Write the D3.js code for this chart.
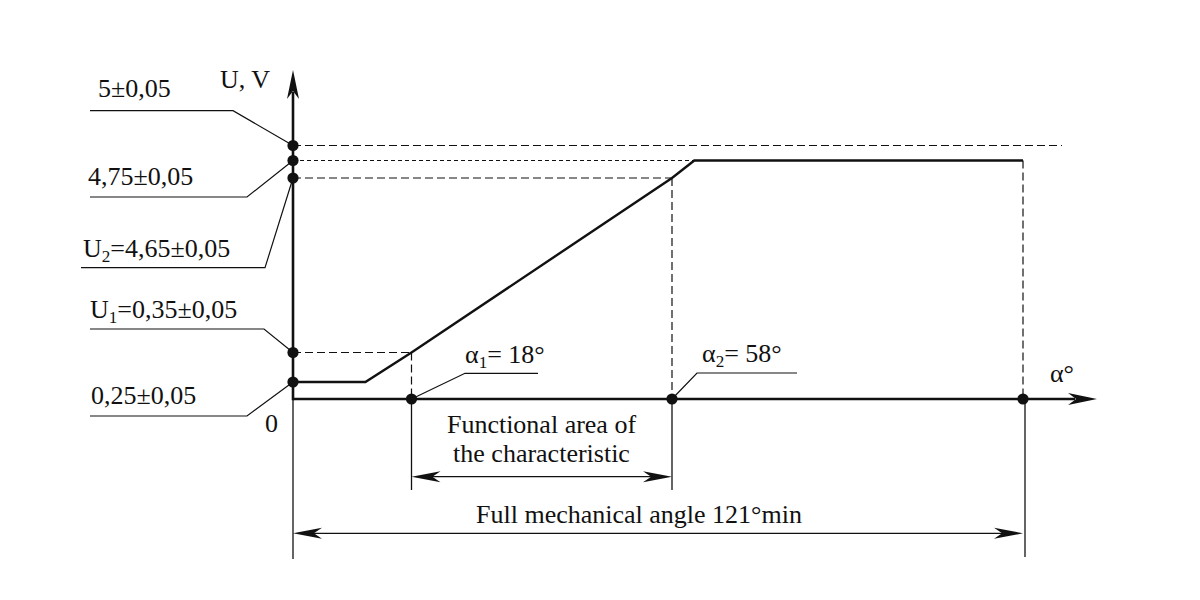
<!DOCTYPE html>
<html>
<head>
<meta charset="utf-8">
<script src="https://cdn.jsdelivr.net/npm/d3@7"></script>
<style>
  html, body { margin: 0; padding: 0; background: #fff; }
  svg { display: block; }
  text { font-family: "Liberation Serif", "Times New Roman", serif; fill: #111; }
</style>
</head>
<body>
<svg id="chart" width="1200" height="600"></svg>
<script>
// ---------------- data ----------------
// schematic (non-uniform) axes: key angles and voltages
const angleKeys = [0, 18, 58, 121];            // degrees
const voltKeys  = [0, 0.25, 0.35, 4.65, 4.75, 5]; // volts
// characteristic curve
const curveAngle = [0, 11, 18, 58, 62, 121];
const curveVolt  = [0.25, 0.25, 0.35, 4.65, 4.75, 4.75];
// marked voltage levels on the U axis
const uLevels = [5, 4.75, 4.65, 0.35, 0.25];
const uLabels = [
  [{t: "5±0,05"}],
  [{t: "4,75±0,05"}],
  [{t: "U"}, {t: "2", sub: true}, {t: "=4,65±0,05"}],
  [{t: "U"}, {t: "1", sub: true}, {t: "=0,35±0,05"}],
  [{t: "0,25±0,05"}]
];
// marked angles on the α axis
const aLevels = [18, 58, 121];
const aLabels = [
  [{t: "α"}, {t: "1", sub: true}, {t: "= 18°"}],
  [{t: "α"}, {t: "2", sub: true}, {t: "= 58°"}]
];
const axisTitleU = "U, V";
const axisTitleA = "α°";
const originLabel = "0";
const functionalText = ["Functional area of", "the characteristic"];
const fullAngleText = "Full mechanical angle 121°min";

// ---------------- layout ----------------
const svg = d3.select("#chart");
const x = d3.scaleLinear().domain(angleKeys).range([293, 411.5, 672, 1023]);
const y = d3.scaleLinear().domain(voltKeys).range([399, 382, 352.5, 178, 160.5, 145.5]);

const FS = 26;
const ink = "#111";

function arrowHead(g, tipX, tipY, angleDeg, L, w) {
  g.append("path")
    .attr("d", `M0,0 L${-L},${-w} L${-L * 0.72},0 L${-L},${w} Z`)
    .attr("transform", `translate(${tipX},${tipY}) rotate(${angleDeg})`)
    .attr("fill", ink);
}

function richText(g, parts, xx, yy, anchor) {
  const t = g.append("text").attr("x", xx).attr("y", yy)
    .attr("font-size", FS).attr("text-anchor", anchor || "start");
  let shifted = false;
  parts.forEach(p => {
    const ts = t.append("tspan").text(p.t);
    if (p.sub) { ts.attr("font-size", FS * 0.66).attr("dy", 5); shifted = true; }
    else if (shifted) { ts.attr("dy", -5); shifted = false; }
  });
  return t;
}

const g = svg.append("g");

// dashed helper lines
const dash = g.append("g").attr("fill", "none").attr("stroke", ink).attr("stroke-width", 1.2);
dash.append("line").attr("x1", x(0)).attr("x2", 1062).attr("y1", y(5)).attr("y2", y(5))
  .attr("stroke-dasharray", "8,4");
dash.append("line").attr("x1", x(0)).attr("x2", x(62)).attr("y1", y(4.75)).attr("y2", y(4.75))
  .attr("stroke-dasharray", "4,3");
dash.append("line").attr("x1", x(0)).attr("x2", x(58)).attr("y1", y(4.65)).attr("y2", y(4.65))
  .attr("stroke-dasharray", "8,4");
dash.append("line").attr("x1", x(58)).attr("x2", x(58)).attr("y1", y(4.65)).attr("y2", y(0))
  .attr("stroke-dasharray", "8,4");
dash.append("line").attr("x1", x(0)).attr("x2", x(18)).attr("y1", y(0.35)).attr("y2", y(0.35))
  .attr("stroke-dasharray", "8,4");
dash.append("line").attr("x1", x(18)).attr("x2", x(18)).attr("y1", y(0.35)).attr("y2", y(0))
  .attr("stroke-dasharray", "8,4");
dash.append("line").attr("x1", x(121)).attr("x2", x(121)).attr("y1", y(4.75)).attr("y2", y(0))
  .attr("stroke-dasharray", "8,4");

// characteristic curve
const line = d3.line().x(d => x(d[0])).y(d => y(d[1]));
g.append("path")
  .datum(curveAngle.map((a, i) => [a, curveVolt[i]]))
  .attr("d", line)
  .attr("fill", "none").attr("stroke", ink).attr("stroke-width", 2.4)
  .attr("stroke-linejoin", "miter");

// axes
g.append("line").attr("x1", x(0)).attr("x2", 1075).attr("y1", y(0)).attr("y2", y(0))
  .attr("stroke", ink).attr("stroke-width", 2.6);
arrowHead(g, 1097, y(0), 0, 29, 6);
g.append("line").attr("x1", x(0)).attr("x2", x(0)).attr("y1", y(0) + 1.3).attr("y2", 92)
  .attr("stroke", ink).attr("stroke-width", 2.6);
arrowHead(g, x(0), 70, -90, 29, 6);

g.append("text").attr("x", 220).attr("y", 88).attr("font-size", FS).text(axisTitleU);
g.append("text").attr("x", 1050).attr("y", 382).attr("font-size", FS).text(axisTitleA);
g.append("text").attr("x", 265).attr("y", 432).attr("font-size", FS).text(originLabel);

// U-level leaders and labels
const uLayout = [
  {ex: 233, ey: 110.7, left: 90, lx: 98, ly: 97},
  {ex: 247, ey: 197, left: 90, lx: 88, ly: 185},
  {ex: 265, ey: 267.7, left: 81, lx: 83, ly: 257},
  {ex: 264, ey: 329, left: 90, lx: 90, ly: 318},
  {ex: 247, ey: 416, left: 90, lx: 91, ly: 404}
];
const leaders = g.append("g").attr("fill", "none").attr("stroke", ink).attr("stroke-width", 1.2);
uLevels.forEach((v, i) => {
  const L = uLayout[i];
  leaders.append("polyline")
    .attr("points", `${x(0)},${y(v)} ${L.ex},${L.ey} ${L.left},${L.ey}`);
  richText(g, uLabels[i], L.lx, L.ly);
});

// angle leaders and labels
const aLayout = [
  {ex: 465, ey: 373.3, right: 538, lx: 465, ly: 363},
  {ex: 697, ey: 373, right: 797, lx: 702, ly: 362}
];
aLabels.forEach((parts, i) => {
  const L = aLayout[i];
  leaders.append("polyline")
    .attr("points", `${x(aLevels[i])},${y(0)} ${L.ex},${L.ey} ${L.right},${L.ey}`);
  richText(g, parts, L.lx, L.ly);
});

// dots
g.selectAll("circle.u").data(uLevels).join("circle").attr("class", "u")
  .attr("cx", x(0)).attr("cy", d => y(d)).attr("r", 5.6).attr("fill", ink);
g.selectAll("circle.a").data(aLevels).join("circle").attr("class", "a")
  .attr("cx", d => x(d)).attr("cy", y(0)).attr("r", 5.6).attr("fill", ink);

// dimension lines
const dim = g.append("g").attr("stroke", ink).attr("stroke-width", 1.3).attr("fill", "none");
dim.append("line").attr("x1", x(18)).attr("x2", x(18)).attr("y1", y(0)).attr("y2", 490);
dim.append("line").attr("x1", x(58)).attr("x2", x(58)).attr("y1", y(0)).attr("y2", 490);
dim.append("line").attr("x1", x(0)).attr("x2", x(0)).attr("y1", y(0)).attr("y2", 559);
dim.append("line").attr("x1", x(121) + 2).attr("x2", x(121) + 2).attr("y1", y(0)).attr("y2", 557);

const yF = 476.7, yM = 533.3;
dim.append("line").attr("x1", x(18) + 10).attr("x2", x(58) - 10).attr("y1", yF).attr("y2", yF);
arrowHead(g, x(18), yF, 180, 29, 5.5);
arrowHead(g, x(58), yF, 0, 29, 5.5);
dim.append("line").attr("x1", x(0) + 10).attr("x2", x(121) - 10).attr("y1", yM).attr("y2", yM);
arrowHead(g, x(0), yM, 180, 29, 5.5);
arrowHead(g, x(121), yM, 0, 29, 5.5);

g.append("text").attr("x", 541.5).attr("y", 432.7).attr("font-size", FS)
  .attr("text-anchor", "middle").text(functionalText[0]);
g.append("text").attr("x", 541.5).attr("y", 461.7).attr("font-size", FS)
  .attr("text-anchor", "middle").text(functionalText[1]);
g.append("text").attr("x", 639).attr("y", 523).attr("font-size", FS)
  .attr("text-anchor", "middle").text(fullAngleText);
</script>
</body>
</html>
